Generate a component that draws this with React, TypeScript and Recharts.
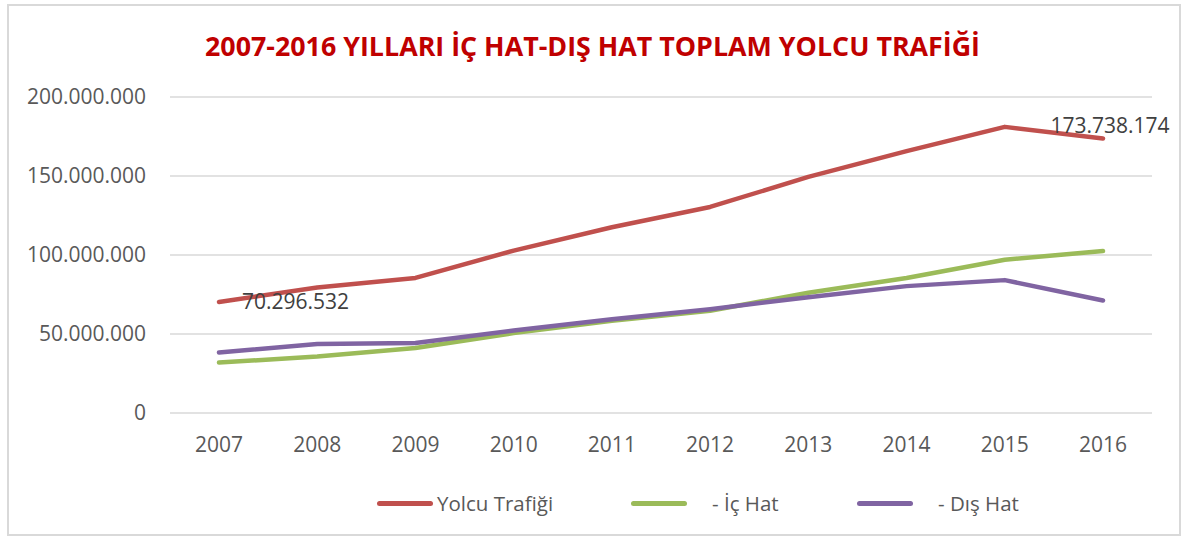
import React from 'react';
import { LineChart, Line, XAxis, YAxis, CartesianGrid, Legend } from 'recharts';

const years = ['2007', '2008', '2009', '2010', '2011', '2012', '2013', '2014', '2015', '2016'];
const yolcuTrafigi = [70296532, 79400000, 85500000, 102800000, 117600000, 130400000, 149400000, 165700000, 181100000, 173738174];
const icHat = [31900000, 35800000, 41200000, 50600000, 58300000, 64700000, 76100000, 85400000, 97000000, 102500000];
const disHat = [38300000, 43600000, 44300000, 52200000, 59300000, 65700000, 73300000, 80300000, 84100000, 71200000];
const yTicks = [0, 50000000, 100000000, 150000000, 200000000];
const seriesNames = ['Yolcu Trafiği', '- İç Hat', '- Dış Hat'];
const seriesColors = ['#c0504d', '#9bbb59', '#8064a2'];
const titleText = '2007-2016 YILLARI İÇ HAT-DIŞ HAT TOPLAM YOLCU TRAFİĞİ';

const data = years.map((y, i) => ({
  year: y,
  yolcu: yolcuTrafigi[i],
  ic: icHat[i],
  dis: disHat[i],
}));

const FONT = '"Open Sans", "Liberation Sans", sans-serif';
const fmt = (n: number) => Math.round(n).toString().replace(/\B(?=(\d{3})+(?!\d))/g, '.');

const legendLayout = [
  { lineX: 377, textX: 437 },
  { lineX: 631, textX: 712 },
  { lineX: 857, textX: 938 },
];

const renderLegend = () => {
  return (
    <div style={{ position: 'relative', width: 1181, height: 40 }}>
      {seriesNames.map((name, i) => {
        const l = legendLayout[i];
        return (
          <React.Fragment key={name}>
            <div
              style={{
                position: 'absolute',
                left: l.lineX,
                top: 24.5,
                width: 56,
                height: 5,
                borderRadius: 3,
                background: seriesColors[i],
              }}
            />
            <span
              style={{
                position: 'absolute',
                left: l.textX,
                top: 13,
                fontFamily: FONT,
                fontSize: 20.5,
                lineHeight: '28px',
                color: '#595959',
                whiteSpace: 'pre',
              }}
            >
              {name}
            </span>
          </React.Fragment>
        );
      })}
    </div>
  );
};

const RedLabel = (props: any) => {
  const { x, y, index, value } = props;
  if (index === 0) {
    return (
      <text x={x + 23} y={y} dy="0.36em" textAnchor="start" fontFamily={FONT} fontSize={21} fill="#404040">
        {fmt(value)}
      </text>
    );
  }
  if (index === years.length - 1) {
    return (
      <text x={x + 7} y={y - 5} textAnchor="middle" fontFamily={FONT} fontSize={21} fill="#404040">
        {fmt(value)}
      </text>
    );
  }
  return null;
};

export default function App() {
  return (
    <div style={{ position: 'absolute', left: 0, top: 0, width: 1181, height: 536, background: '#fff' }}>
      <div
        style={{
          position: 'absolute',
          left: 7,
          top: 4,
          width: 1174,
          height: 532,
          border: '2px solid #d9d9d9',
          boxSizing: 'border-box',
        }}
      />
      <svg style={{ position: 'absolute', left: 0, top: 0 }} width={1181} height={80}>
        <text
          x={205}
          y={56}
          textLength={775}
          lengthAdjust="spacingAndGlyphs"
          fontFamily={FONT}
          fontWeight="bold"
          fontSize={27}
          fill="#c00000"
        >
          {titleText}
        </text>
      </svg>
      <div style={{ position: 'absolute', left: 0, top: 0 }}>
        <LineChart width={1181} height={536} data={data} margin={{ top: 97, right: 29, bottom: 20, left: 0 }}>
          <CartesianGrid vertical={false} stroke="#d9d9d9" strokeWidth={1.5} />
          <XAxis
            dataKey="year"
            axisLine={false}
            tickLine={false}
            tickSize={0}
            tickMargin={24}
            height={63}
            padding={{ left: 49, right: 49 }}
            interval={0}
            tick={{ fontFamily: FONT, fontSize: 21, fill: '#595959' }}
          />
          <YAxis
            domain={[0, 200000000]}
            ticks={yTicks}
            axisLine={false}
            tickLine={false}
            tickSize={0}
            tickMargin={24}
            width={170}
            tickFormatter={fmt}
            tick={{ fontFamily: FONT, fontSize: 21, fill: '#595959' }}
          />
          <Legend
            verticalAlign="bottom"
            content={renderLegend}
            wrapperStyle={{ left: 0, top: 476, width: 1181, height: 40 }}
          />
          <Line
            dataKey="yolcu"
            name={seriesNames[0]}
            stroke={seriesColors[0]}
            strokeWidth={4.5}
            strokeLinecap="round"
            strokeLinejoin="round"
            dot={false}
            activeDot={false}
            isAnimationActive={false}
            label={<RedLabel />}
          />
          <Line
            dataKey="ic"
            name={seriesNames[1]}
            stroke={seriesColors[1]}
            strokeWidth={4.5}
            strokeLinecap="round"
            strokeLinejoin="round"
            dot={false}
            activeDot={false}
            isAnimationActive={false}
          />
          <Line
            dataKey="dis"
            name={seriesNames[2]}
            stroke={seriesColors[2]}
            strokeWidth={4.5}
            strokeLinecap="round"
            strokeLinejoin="round"
            dot={false}
            activeDot={false}
            isAnimationActive={false}
          />
        </LineChart>
      </div>
    </div>
  );
}
